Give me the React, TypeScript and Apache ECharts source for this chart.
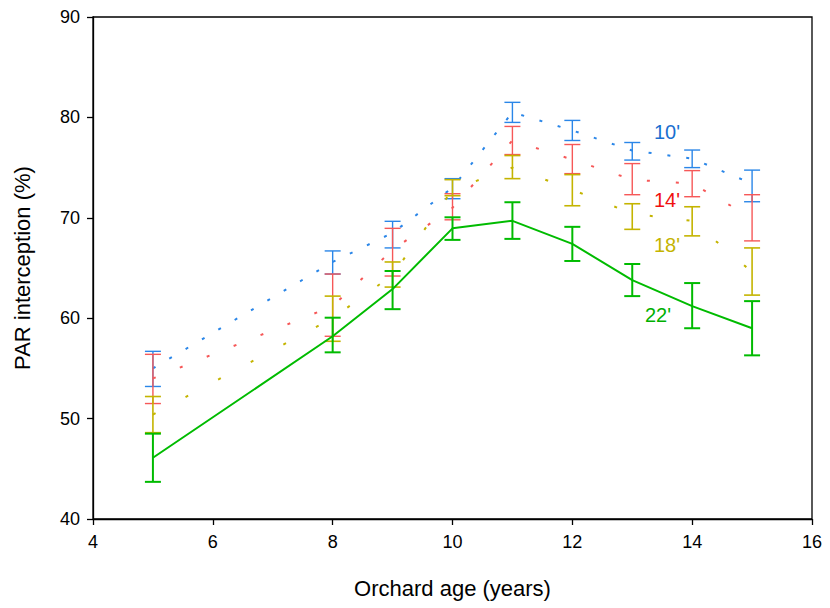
import React, { useEffect, useRef } from "react";
import * as echarts from "echarts";

const years = [5, 8, 9, 10, 11, 12, 13, 14, 15];

const s10 = [55.0, 65.6, 68.5, 73.0, 80.5, 78.7, 76.7, 75.9, 73.4];
const s10Hi = [56.7, 66.7, 69.65, 73.9, 81.5, 79.7, 77.5, 76.75, 74.75];
const s10Lo = [53.2, 64.4, 67.0, 71.9, 79.5, 77.7, 75.75, 75.0, 71.6];

const s14 = [54.0, 61.2, 66.8, 71.0, 77.7, 75.8, 73.8, 73.4, 70.0];
const s14Hi = [56.4, 64.4, 68.95, 72.4, 79.1, 77.3, 75.4, 74.7, 72.3];
const s14Lo = [51.5, 58.2, 64.2, 69.8, 76.3, 74.4, 72.3, 72.1, 67.7];

const s18 = [50.4, 60.0, 64.3, 72.8, 75.0, 72.8, 70.4, 69.7, 64.6];
const s18Hi = [52.2, 62.2, 65.6, 73.8, 76.2, 74.3, 71.4, 71.1, 67.0];
const s18Lo = [48.6, 57.7, 63.1, 72.2, 73.9, 71.2, 68.85, 68.2, 62.3];

const s22 = [46.1, 58.2, 62.9, 68.95, 69.7, 67.4, 63.8, 61.2, 59.0];
const s22Hi = [48.5, 60.05, 64.7, 70.05, 71.55, 69.1, 65.4, 63.5, 61.7];
const s22Lo = [43.7, 56.6, 60.9, 67.8, 67.9, 65.7, 62.2, 59.0, 56.3];

const seriesNames = ["10'", "14'", "18'", "22'"];
const xTicks = [4, 6, 8, 10, 12, 14, 16];
const yTicks = [40, 50, 60, 70, 80, 90];

const FONT = "Liberation Sans, Arial, sans-serif";

function errSeries(name: string, lo: number[], hi: number[], color: string, lw: number, z: number) {
  return {
    name: name + " err",
    type: "custom",
    z,
    data: years.map((x, i) => [x, lo[i], hi[i]]),
    encode: { x: 0, y: [1, 2] },
    renderItem: (params: any, api: any) => {
      const x = api.value(0);
      const top = api.coord([x, api.value(2)]);
      const bot = api.coord([x, api.value(1)]);
      const hw = 8;
      const style = { stroke: color, lineWidth: lw };
      return {
        type: "group",
        children: [
          { type: "line", shape: { x1: top[0], y1: top[1], x2: bot[0], y2: bot[1] }, style },
          { type: "line", shape: { x1: top[0] - hw, y1: top[1], x2: top[0] + hw, y2: top[1] }, style },
          { type: "line", shape: { x1: bot[0] - hw, y1: bot[1], x2: bot[0] + hw, y2: bot[1] }, style },
        ],
      };
    },
  };
}

function lineSeries(name: string, vals: number[], color: string, type: any, lw: number, z: number) {
  return {
    name,
    type: "line",
    z,
    symbol: "none",
    data: years.map((x, i) => [x, vals[i]]),
    lineStyle: { color, width: lw, type, cap: "butt" },
  };
}

export default function App() {
  const ref = useRef<HTMLDivElement>(null);
  useEffect(() => {
    if (!ref.current) return;
    const chart = echarts.init(ref.current, null, { renderer: "svg" });
    const blue = "#2a86e8";
    const red = "#f65858";
    const yellow = "#c4b400";
    const green = "#00bb00";
    chart.setOption({
      animation: false,
      backgroundColor: "#fff",
      grid: { left: 93, right: 18, top: 17, bottom: 89, show: true, borderColor: "#000", borderWidth: 1.3, backgroundColor: "transparent" },
      xAxis: {
        type: "value",
        min: xTicks[0],
        max: xTicks[xTicks.length - 1],
        interval: 2,
        name: "Orchard age (years)",
        nameLocation: "middle",
        nameGap: 58,
        nameTextStyle: { fontFamily: FONT, fontSize: 22, color: "#000" },
        axisLine: { lineStyle: { color: "#000", width: 1.3 } },
        axisTick: { length: 6, lineStyle: { color: "#000", width: 1.3 } },
        axisLabel: { margin: 14, fontFamily: FONT, fontSize: 18, color: "#000" },
        splitLine: { show: false },
      },
      yAxis: {
        type: "value",
        min: yTicks[0],
        max: yTicks[yTicks.length - 1],
        interval: 10,
        name: "PAR interception (%)",
        nameLocation: "middle",
        nameGap: 60,
        nameTextStyle: { fontFamily: FONT, fontSize: 22, color: "#000" },
        axisLine: { lineStyle: { color: "#000", width: 1.3 } },
        axisTick: { length: 6, lineStyle: { color: "#000", width: 1.3 } },
        axisLabel: { margin: 13, fontFamily: FONT, fontSize: 18, color: "#000" },
        splitLine: { show: false },
      },
      graphic: [
        { type: "text", left: 654, top: 122, style: { text: seriesNames[0], fill: "#1a6fd0", font: "20px " + FONT } },
        { type: "text", left: 654, top: 190, style: { text: seriesNames[1], fill: "#f01010", font: "20px " + FONT } },
        { type: "text", left: 654, top: 235, style: { text: seriesNames[2], fill: "#c4b400", font: "20px " + FONT } },
        { type: "text", left: 645, top: 305, style: { text: seriesNames[3], fill: "#00b000", font: "20px " + FONT } },
      ],
      series: [
        errSeries(seriesNames[0], s10Lo, s10Hi, blue, 1.4, 2),
        errSeries(seriesNames[1], s14Lo, s14Hi, red, 1.4, 3),
        errSeries(seriesNames[2], s18Lo, s18Hi, yellow, 1.6, 4),
        errSeries(seriesNames[3], s22Lo, s22Hi, green, 2, 5),
        lineSeries(seriesNames[0], s10, blue, [3, 16], 2, 2),
        lineSeries(seriesNames[1], s14, red, [3, 26], 2, 3),
        lineSeries(seriesNames[2], s18, yellow, [3, 34], 2, 4),
        lineSeries(seriesNames[3], s22, green, "solid", 2, 5),
      ],
    });
    return () => chart.dispose();
  }, []);
  return <div ref={ref} style={{ width: 830, height: 608, position: "absolute", left: 0, top: 0 }} />;
}
